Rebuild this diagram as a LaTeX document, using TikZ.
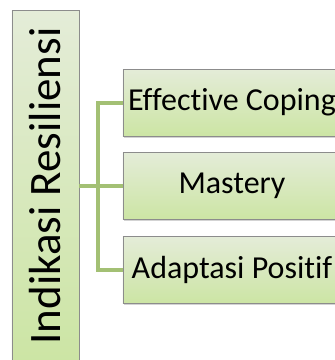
\documentclass[tikz,border=0pt]{standalone}
\usepackage{fontspec}
\setmainfont[Ligatures=NoCommon]{Carlito}
\usetikzlibrary{shadows}
\definecolor{boxtop}{RGB}{228,236,216}
\definecolor{boxbot}{RGB}{204,229,164}
\definecolor{boxline}{RGB}{140,140,140}
\definecolor{conncol}{RGB}{163,192,116}
\tikzset{
  greenbox/.style={draw=boxline, line width=0.6pt, rectangle, inner sep=0pt,
    top color=boxtop, bottom color=boxbot,
    drop shadow={shadow xshift=1.2pt, shadow yshift=-1.5pt, opacity=0.35}},
  itembox/.style={greenbox, minimum width=218pt, minimum height=67pt, font=\fontsize{32}{36}\selectfont},
  conn/.style={draw=conncol, line width=4pt},
}
\begin{document}
\begin{tikzpicture}[x=1pt,y=-1pt]
\useasboundingbox (0,0) rectangle (335,360);
\begin{scope}
\clip (0,0) rectangle (335,360);
\node[greenbox, minimum width=67pt, minimum height=352pt, font=\fontsize{45}{50}\selectfont] (root) at (45.5,186) {\rotatebox{90}{Indikasi Resiliensi}};
\node[itembox] (a) at (232,102.5) {Effective Coping};
\node[itembox] (b) at (232,186) {Mastery};
\node[itembox] (c) at (232,270) {Adaptasi Positif};
\draw[conn] (root.east) -- ++(19,0) coordinate (j);
\draw[conn] (j) -- (b.west);
\draw[conn] (j) |- (a.west);
\draw[conn] (j) |- (c.west);
\end{scope}
\end{tikzpicture}
\end{document}
